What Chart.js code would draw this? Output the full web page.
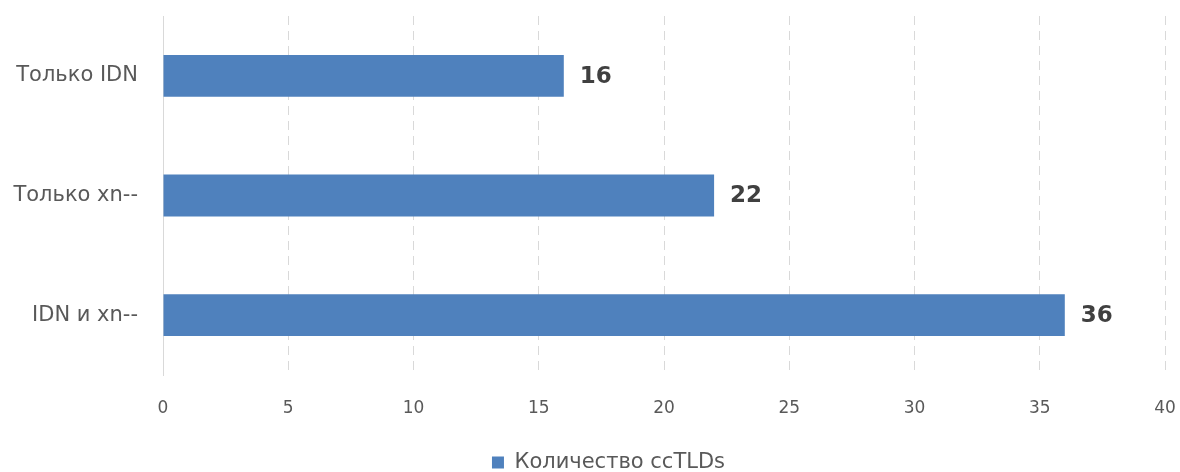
<!DOCTYPE html>
<html>
<head>
<meta charset="utf-8">
<script src="https://cdn.jsdelivr.net/npm/chart.js@4/dist/chart.umd.min.js"></script>
<style>
html,body{margin:0;padding:0;background:#fff;}
#wrap{width:1180px;height:472px;}
</style>
</head>
<body>
<div id="wrap"><canvas id="c" width="1180" height="472"></canvas></div>
<script>
const categories = ["Только IDN", "Только xn--", "IDN и xn--"];
const values = [16, 22, 36];
const seriesName = "Количество ccTLDs";
const xTicks = [0, 5, 10, 15, 20, 25, 30, 35, 40];

const FONT = '"DejaVu Sans", sans-serif';

const valueLabels = {
  id: 'valueLabels',
  afterDatasetsDraw(chart) {
    const ctx = chart.ctx;
    const meta = chart.getDatasetMeta(0);
    ctx.save();
    ctx.font = 'bold 23px ' + FONT;
    ctx.fillStyle = '#404040';
    ctx.textAlign = 'left';
    ctx.textBaseline = 'middle';
    meta.data.forEach((bar, i) => {
      ctx.fillText(String(values[i]), bar.x + 16, bar.y + 1);
    });
    ctx.restore();
  }
};

// shift the legend a little to the right, as in the reference
const legendShift = {
  id: 'legendShift',
  afterLayout(chart) {
    if (chart.legend) {
      chart.legend.left += 26;
      chart.legend.right += 26;
    }
  }
};

function zeroPad(scale) {
  scale.paddingTop = 0; scale.paddingBottom = 0;
  scale.paddingLeft = 0; scale.paddingRight = 0;
}

new Chart(document.getElementById('c'), {
  type: 'bar',
  data: {
    labels: categories,
    datasets: [{
      label: seriesName,
      data: values,
      backgroundColor: '#4f81bd',
      borderWidth: 0,
      categoryPercentage: 1,
      barPercentage: 0.35
    }]
  },
  options: {
    indexAxis: 'y',
    responsive: false,
    animation: false,
    layout: { padding: { top: 16, right: 15, left: 0, bottom: -11 } },
    scales: {
      x: {
        min: 0, max: 40,
        afterBuildTicks(scale) { scale.ticks = xTicks.map(v => ({ value: v })); },
        grid: { color: '#d9d9d9', lineWidth: 1, drawTicks: false },
        border: { display: false, dash: [9, 6] },
        ticks: { color: '#595959', font: { family: FONT, size: 17 }, padding: 23 },
        afterFit(scale) { scale.height = 75; zeroPad(scale); }
      },
      y: {
        grid: { display: false, drawTicks: false },
        border: { display: true, color: '#d9d9d9', width: 1 },
        ticks: { color: '#595959', font: { family: FONT, size: 21 }, padding: 25 },
        afterFit(scale) { scale.width = 163; zeroPad(scale); }
      }
    },
    plugins: {
      legend: {
        position: 'bottom',
        labels: {
          color: '#595959',
          font: { family: FONT, size: 21 },
          boxWidth: 12, boxHeight: 12, padding: 2
        }
      },
      tooltip: { enabled: false }
    }
  },
  plugins: [valueLabels, legendShift]
});
</script>
</body>
</html>
